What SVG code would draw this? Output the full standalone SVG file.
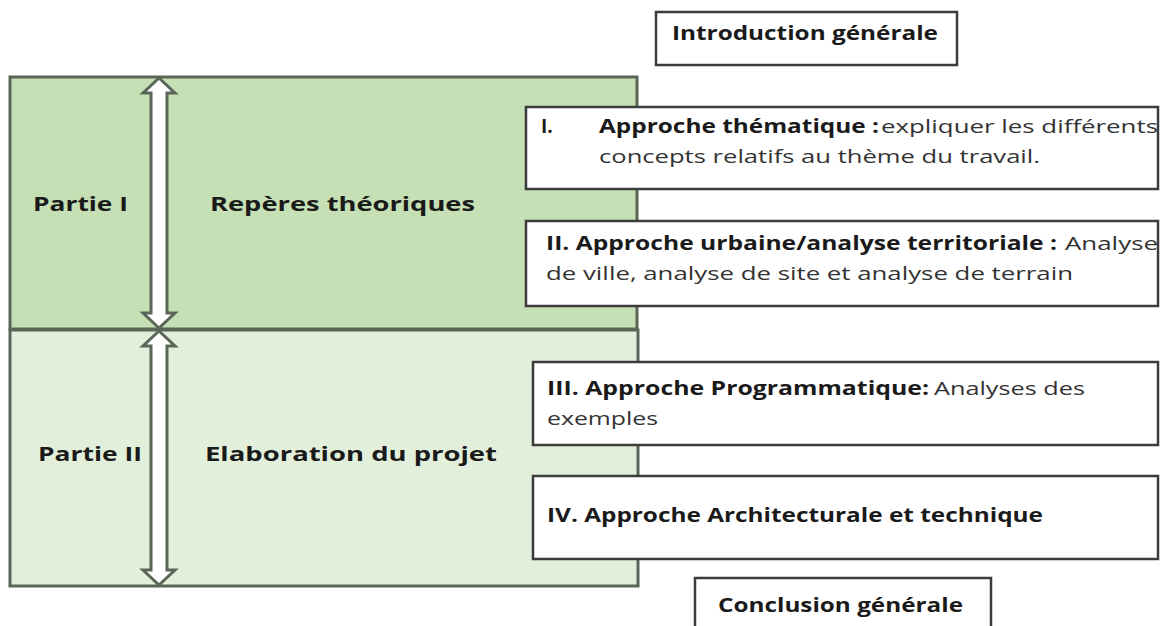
<svg xmlns="http://www.w3.org/2000/svg" width="1162" height="626" viewBox="0 0 1162 626">
<style>
.bg{fill:#ffffff}
.p1{fill:#c5e0b4;stroke:#5a6657;stroke-width:3}
.p2{fill:#e2efda;stroke:#5a6657;stroke-width:3}
.box{fill:#ffffff;stroke:#3c3c3c;stroke-width:2.5}
.arr{fill:#ffffff;stroke:#5a6657;stroke-width:3;stroke-linejoin:miter}
text{font-family:"Open Sans","Liberation Sans",sans-serif;font-size:19px;fill:#1a1a1a}
.b{font-weight:bold}
.r{fill:#333333}
</style>
<rect class="bg" x="0" y="0" width="1162" height="626"/>
<g id="partie1">
<rect class="p1" x="10" y="77" width="627" height="252"/>
<text class="b" x="33" y="211" textLength="95" lengthAdjust="spacingAndGlyphs">Partie I</text>
<text class="b" x="210" y="211" textLength="265" lengthAdjust="spacingAndGlyphs">Repères théoriques</text>
</g>
<g id="partie2">
<rect class="p2" x="10" y="330" width="628" height="256"/>
<text class="b" x="38" y="461" textLength="104" lengthAdjust="spacingAndGlyphs">Partie II</text>
<text class="b" x="205" y="461" textLength="292" lengthAdjust="spacingAndGlyphs">Elaboration du projet</text>
</g>
<g id="connectors">
<path class="arr" d="M159,78 L175,93 L167,93 L167,313 L175,313 L159,328 L143,313 L151,313 L151,93 L143,93 Z"/>
<path class="arr" d="M159,331 L175,346 L167,346 L167,570 L175,570 L159,585 L143,570 L151,570 L151,346 L143,346 Z"/>
</g>
<g id="intro">
<rect class="box" x="656" y="12" width="301" height="53"/>
<text class="b" x="672" y="40" textLength="266" lengthAdjust="spacingAndGlyphs">Introduction générale</text>
</g>
<g id="approche1">
<rect class="box" x="526" y="107" width="632" height="82"/>
<text class="b" x="541" y="133">I.</text>
<text class="b" x="599" y="133" textLength="280" lengthAdjust="spacingAndGlyphs">Approche thématique :</text>
<text class="r" x="881" y="133" textLength="277" lengthAdjust="spacingAndGlyphs">expliquer les différents</text>
<text class="r" x="599" y="163" textLength="441" lengthAdjust="spacingAndGlyphs">concepts relatifs au thème du travail.</text>
</g>
<g id="approche2">
<rect class="box" x="526" y="221" width="632" height="85"/>
<text class="b" x="546" y="250" textLength="511" lengthAdjust="spacingAndGlyphs">II. Approche urbaine/analyse territoriale :</text>
<text class="r" x="1065" y="250" textLength="93" lengthAdjust="spacingAndGlyphs">Analyse</text>
<text class="r" x="546" y="280" textLength="527" lengthAdjust="spacingAndGlyphs">de ville, analyse de site et analyse de terrain</text>
</g>
<g id="approche3">
<rect class="box" x="533" y="362" width="625" height="83"/>
<text class="b" x="547" y="395" textLength="382" lengthAdjust="spacingAndGlyphs">III. Approche Programmatique:</text>
<text class="r" x="934" y="395" textLength="151" lengthAdjust="spacingAndGlyphs">Analyses des</text>
<text class="r" x="547" y="425" textLength="111" lengthAdjust="spacingAndGlyphs">exemples</text>
</g>
<g id="approche4">
<rect class="box" x="533" y="476" width="625" height="83"/>
<text class="b" x="547" y="522" textLength="496" lengthAdjust="spacingAndGlyphs">IV. Approche Architecturale et technique</text>
</g>
<g id="conclusion">
<rect class="box" x="695" y="578" width="296" height="60"/>
<text class="b" x="718" y="612" textLength="245" lengthAdjust="spacingAndGlyphs">Conclusion générale</text>
</g>
</svg>
